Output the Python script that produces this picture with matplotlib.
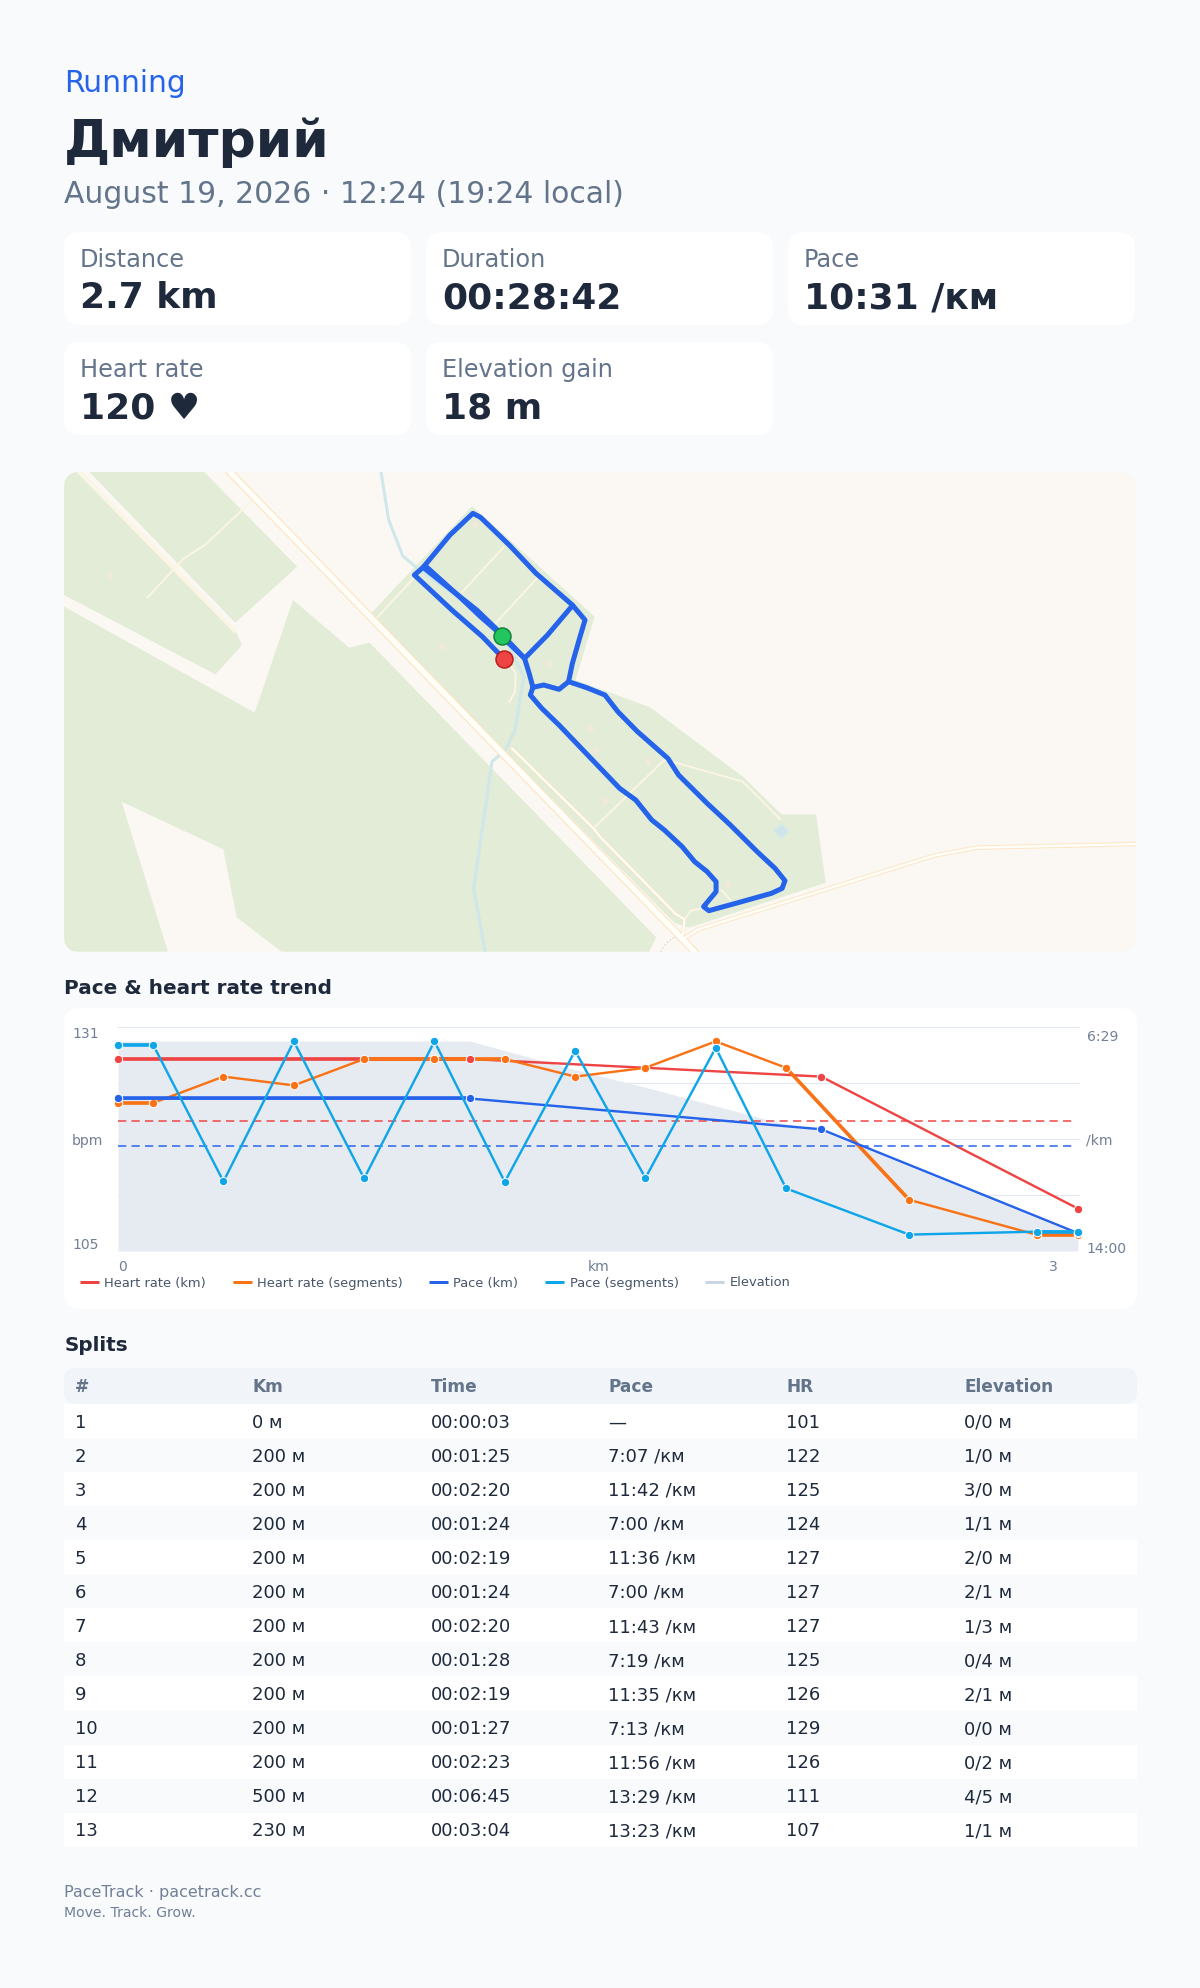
"""Activity summary card: header, stat tiles, route map, trend chart, splits table."""
import matplotlib
matplotlib.use("Agg")
import matplotlib.pyplot as plt
from matplotlib.patches import FancyBboxPatch, Polygon, Rectangle

W, H = 1200, 1988
PT = 0.72  # px -> pt at dpi 100

BG = "#f8fafc"
INK = "#1e293b"
MUTED = "#64748b"
LIGHT_MUTED = "#718096"
RED = "#ef4444"
ORANGE = "#f97316"
BLUE = "#2563eb"
SKY = "#0ea5e9"
ELEV = "#e6eaf1"
GRID = "#e2e8f0"

# --- stat tiles -------------------------------------------------------------
tile_labels = ["Distance", "Duration", "Pace", "Heart rate", "Elevation gain"]
tile_values = ["2.7 km", "00:28:42", "10:31 /км", "120 ♥", "18 m"]

# --- trend chart ------------------------------------------------------------
km_x = [0, 1, 2, 2.73]
hr_km = [127, 127, 125, 110]
pace_km = [535, 535, 597, 806]  # seconds per km

seg_x = [0, 0.1, 0.3, 0.5, 0.7, 0.9, 1.1, 1.3, 1.5, 1.7, 1.9, 2.25, 2.615, 2.73]
hr_seg = [122, 122, 125, 124, 127, 127, 127, 125, 126, 129, 126, 111, 107, 107]
pace_seg = [427, 427, 702, 420, 696, 420, 703, 439, 695, 433, 716, 809, 803, 803]

elev_x = [0, 1, 1.3, 1.513, 1.858, 2, 2.73]
elev_rel = [1, 1, 0.863, 0.774, 0.62, 0.573, 0.079]

hr_avg = 120
pace_avg = 631

# --- splits -----------------------------------------------------------------
split_no = [str(i) for i in range(1, 14)]
split_dist = ["0 м"] + ["200 м"] * 10 + ["500 м", "230 м"]
split_time = ["00:00:03", "00:01:25", "00:02:20", "00:01:24", "00:02:19", "00:01:24",
              "00:02:20", "00:01:28", "00:02:19", "00:01:27", "00:02:23", "00:06:45",
              "00:03:04"]
split_pace = ["—", "7:07 /км", "11:42 /км", "7:00 /км", "11:36 /км", "7:00 /км",
              "11:43 /км", "7:19 /км", "11:35 /км", "7:13 /км", "11:56 /км",
              "13:29 /км", "13:23 /км"]
split_hr = ["101", "122", "125", "124", "127", "127", "127", "125", "126", "129",
            "126", "111", "107"]
split_elev = ["0/0 м", "1/0 м", "3/0 м", "1/1 м", "2/0 м", "2/1 м", "1/3 м", "0/4 м",
              "2/1 м", "0/0 м", "0/2 м", "4/5 м", "1/1 м"]
split_heads = ["#", "Km", "Time", "Pace", "HR", "Elevation"]


def left_crop(points):
    return [(50 + x / 2.613, 460 + y / 3) for x, y in points]


def right_crop(points):
    return [(600 + x / 2.8, 460 + y / 3) for x, y in points]


green_a = left_crop([(37, 36), (70, 36), (487, 518), (502, 555), (432, 643), (37, 405)])
green_b = left_crop([(103, 36), (403, 36), (646, 320), (484, 488)])
green_c = left_crop([(37, 440), (535, 758), (635, 420), (782, 563), (835, 548),
                     (1584, 1432), (1565, 1475), (605, 1475), (488, 1372), (453, 1168),
                     (187, 1025), (308, 1475), (37, 1475)])
green_d = (left_crop([(1103, 138), (835, 465), (850, 480)])
           + right_crop([(210, 1390), (250, 1403), (632, 1268), (605, 1063), (508, 1063),
                         (400, 950), (140, 742)])
           + left_crop([(1373, 660), (1423, 470)]))

main_road = left_crop([(470, 36)]) + right_crop([(265, 1475)])
east_road = right_crop([(240, 1432), (275, 1408), (935, 1187), (1055, 1163), (1501, 1152)])
side_road = (left_crop([(1207, 865), (1420, 1105)])
             + right_crop([(0, 1130), (210, 1360), (237, 1378), (232, 1425)]))
thin_paths = [
    left_crop([(255, 412), (350, 295), (405, 255), (525, 125)]),
    left_crop([(850, 478), (950, 355)]),
    left_crop([(1078, 395), (1185, 262)]),
    left_crop([(1160, 495), (1275, 352)]),
    left_crop([(1187, 590), (1217, 640), (1215, 695), (1200, 727)]),
    left_crop([(1420, 1105)]) + right_crop([(180, 900), (225, 912), (400, 965), (505, 1078)]),
    right_crop([(340, 1290), (365, 1320)]),
    right_crop([(290, 1345), (255, 1352), (237, 1378)]),
    left_crop([(72, 36), (482, 516)]),
    left_crop([(82, 36), (488, 516)]),
]
track_edge = right_crop([(170, 1475), (185, 1450), (210, 1430)])
stream = left_crop([(865, 36), (885, 180), (922, 288), (960, 325), (1100, 440), (1200, 560),
                    (1238, 650), (1215, 810), (1190, 870), (1155, 905), (1107, 1285),
                    (1137, 1475)])
pond = right_crop([(508, 1092), (530, 1113), (508, 1137), (486, 1113)])
buildings = (left_crop([(1112, 195), (1025, 560), (1305, 612), (158, 347), (1413, 807),
                        (1425, 873), (1450, 1025), (1565, 905)])
             + right_crop([(358, 1275)]))

route_main = (left_crop([(1180, 529), (1240, 595), (1252, 640), (1262, 682), (1255, 705),
                         (1285, 745), (1330, 795), (1380, 855), (1430, 915)])
              + right_crop([(55, 985), (100, 1020), (145, 1080), (180, 1110), (230, 1160),
                            (265, 1205), (300, 1235), (325, 1265), (325, 1295), (290, 1340),
                            (305, 1352), (380, 1330), (480, 1300), (510, 1285), (518, 1262),
                            (490, 1225), (440, 1175), (365, 1095), (300, 1030), (220, 945),
                            (190, 895), (105, 815), (50, 755)])
              + left_crop([(1450, 705), (1400, 682), (1355, 665), (1330, 688), (1290, 675),
                           (1262, 682)]))
route_east = left_crop([(1355, 665), (1365, 610), (1385, 530), (1398, 480), (1365, 435),
                        (1270, 340), (1200, 255), (1125, 172), (1105, 160), (1045, 225),
                        (975, 322), (1060, 400), (1115, 450), (1180, 522), (1240, 595)])
route_back = left_crop([(1240, 595), (1300, 525), (1365, 437)])
route_double = left_crop([(985, 322), (1070, 410), (1125, 470), (1170, 515)])
route_last = left_crop([(975, 322), (952, 345), (1050, 450), (1130, 530), (1187, 598)])
start_pt = left_crop([(1180, 529)])[0]
end_pt = left_crop([(1187, 598)])[0]


fig = plt.figure(figsize=(W / 100, H / 100), dpi=100, facecolor=BG)
page = fig.add_axes([0, 0, 1, 1])
page.set_xlim(0, W)
page.set_ylim(H, 0)
page.axis("off")


def card(x0, y0, x1, y1, color="white", radius=16, z=1):
    patch = FancyBboxPatch((x0, y0), x1 - x0, y1 - y0,
                           boxstyle=f"round,pad=0,rounding_size={radius}",
                           facecolor=color, edgecolor="none", zorder=z)
    page.add_patch(patch)
    return patch


def label(x, y, s, px, color=INK, weight="normal", ha="left", z=10):
    page.text(x, y, s, fontsize=px * PT, color=color, fontweight=weight,
              ha=ha, va="baseline", zorder=z)


# header
label(64.5, 92, "Running", 29.7, BLUE)
label(64, 157, "Дмитрий", 52, INK, "bold")
label(64, 203, "August 19, 2026 · 12:24 (19:24 local)", 29.9, MUTED)

# tiles
tile_w = 347
for i, (name, val) in enumerate(zip(tile_labels, tile_values)):
    col, row = i % 3, i // 3
    x0 = 64 + col * 362
    y0 = 232 + row * 110
    card(x0, y0, x0 + tile_w, y0 + 93)
    label(x0 + 16, y0 + 35, name, 24, MUTED)
    label(x0 + 16, y0 + 76.5, val, 36, INK, "bold")

# map
map_card = card(64, 472, 1136, 952, color="#fbf8f3", z=2)


def clipped(artist):
    artist.set_clip_path(map_card)
    return artist


def map_line(points, color, px, z, **kw):
    xs, ys = zip(*points)
    line, = page.plot(xs, ys, color=color, lw=px * PT, zorder=z,
                      solid_capstyle="round", solid_joinstyle="round", **kw)
    clipped(line)


for poly in (green_a, green_b, green_c, green_d):
    page.add_patch(clipped(Polygon(poly, closed=True, facecolor="#e2ecd6",
                                   edgecolor="none", zorder=3)))
map_line(stream, "#cfe7ea", 3, 4)
page.add_patch(clipped(Polygon(pond, closed=True, facecolor="#cfe5ea",
                               edgecolor="#d8ebe6", lw=1, zorder=4)))
for bx, by in buildings:
    page.add_patch(clipped(Polygon([(bx, by - 5), (bx + 4, by), (bx, by + 5), (bx - 4, by)],
                                   closed=True, facecolor="#f0e9dc",
                                   edgecolor="none", zorder=4)))
for path in thin_paths:
    map_line(path, "#fbf5e4", 2, 5)
xs, ys = zip(*track_edge)
clipped(page.plot(xs, ys, color="#d5d5d5", lw=1, ls=":", zorder=5)[0])
for road, casing, inner in ((side_road, 3.5, 2), (east_road, 4.5, 2.5), (main_road, 8, 5.5)):
    map_line(road, "#fce6c6", casing, 6)
    map_line(road, "#fffef9", inner, 7)

for seg in (route_main, route_east, route_back, route_double, route_last):
    map_line(seg, BLUE, 5, 8)
page.scatter(*start_pt, s=(17 * PT) ** 2, color="#22c55e", edgecolors="#15803d",
             linewidths=1.5 * PT, zorder=9)
page.scatter(*end_pt, s=(17 * PT) ** 2, color=RED, edgecolors="#b91c1c",
             linewidths=1.5 * PT, zorder=9)

# trend chart
label(64.5, 994, "Pace & heart rate trend", 20, INK, "bold")
card(64, 1008, 1137, 1309)

PLOT_L, PLOT_R, PLOT_T, PLOT_B = 118, 1078.6, 1026.7, 1251
rect = [PLOT_L / W, 1 - PLOT_B / H, (PLOT_R - PLOT_L) / W, (PLOT_B - PLOT_T) / H]


def layer(z):
    ax = fig.add_axes(rect, zorder=z)
    ax.set_xlim(0, 2.732)
    ax.axis("off")
    ax.patch.set_visible(False)
    return ax


elev_ax = layer(1)
hr_ax = layer(2)
pace_ax = layer(3)
elev_ax.set_ylim(0, 1.068)
hr_ax.set_ylim(105.18, 130.67)
pace_ax.set_ylim(842, 390.5)

for frac in (0, 0.25, 0.5, 0.75):
    elev_ax.axhline(1.068 * (1 - frac), color=GRID, lw=1.1 * PT, zorder=1, clip_on=False)
elev_ax.fill_between(elev_x, elev_rel, 0, color=ELEV, lw=0, zorder=2)


def series(ax, xs, ys, color, heavy=()):
    ax.plot(xs, ys, color=color, lw=2.4 * PT, zorder=3, solid_capstyle="butt",
            solid_joinstyle="round")
    for i in heavy:
        ax.plot(xs[i:i + 2], ys[i:i + 2], color=color, lw=3.6 * PT, zorder=3,
                solid_capstyle="butt")
    ax.plot(xs, ys, ls="none", marker="o", ms=8.4 * PT, mfc=color, mec="white",
            mew=1.0 * PT, zorder=4, clip_on=False)


hr_ax.axhline(hr_avg, color=RED, lw=1.5 * PT, dashes=(5.5, 3.5), zorder=2, xmax=0.996)
pace_ax.axhline(pace_avg, color=BLUE, lw=1.5 * PT, dashes=(5.5, 3.5), zorder=2, xmax=0.996)
series(hr_ax, km_x, hr_km, RED, heavy=(0,))
series(hr_ax, seg_x, hr_seg, ORANGE, heavy=(0, 4, 5, 10, 12))
series(pace_ax, km_x, pace_km, BLUE, heavy=(0,))
series(pace_ax, seg_x, pace_seg, SKY, heavy=(0, 12))

label(72, 1038, "131", 14, LIGHT_MUTED)
label(72, 1145, "bpm", 14, LIGHT_MUTED)
label(72, 1249, "105", 14, LIGHT_MUTED)
label(1086.5, 1041, "6:29", 14, LIGHT_MUTED)
label(1086.5, 1145, "/km", 14, LIGHT_MUTED)
label(1086.5, 1253, "14:00", 14, LIGHT_MUTED)
label(118, 1271, "0", 14, LIGHT_MUTED)
label(598.5, 1271, "km", 14, LIGHT_MUTED, ha="center")
label(1058, 1271, "3", 14, LIGHT_MUTED, ha="right")

legend_items = [("Heart rate (km)", RED, 80, 104.3),
                ("Heart rate (segments)", ORANGE, 233, 257.4),
                ("Pace (km)", BLUE, 429, 453.4),
                ("Pace (segments)", SKY, 545.2, 569.7),
                ("Elevation", "#cbd5e1", 705, 729.3)]
for name, color, lx, tx in legend_items:
    page.plot([lx, lx + 19], [1281.5, 1281.5], color=color, lw=3 * PT, zorder=5,
              solid_capstyle="butt")
    label(tx, 1286.5, name, 13, "#475569")

# splits table
label(64.5, 1351, "Splits", 20, INK, "bold")
card(64, 1368, 1137, 1404, color="#f1f5f9", radius=12)
col_x = [75, 252.5, 430.5, 608.5, 786.5, 964.5]
for x, head in zip(col_x, split_heads):
    label(x, 1391.5, head, 17, MUTED, "bold")

ROW_H = 34.05
rows = zip(split_no, split_dist, split_time, split_pace, split_hr, split_elev)
for i, cells in enumerate(rows):
    top = 1404 + i * ROW_H
    if i % 2 == 0:
        page.add_patch(Rectangle((64, top), 1073, ROW_H, facecolor="white",
                                 edgecolor="none", zorder=1))
    for x, cell in zip(col_x, cells):
        label(x, 1427.7 + i * ROW_H, cell, 18, INK)

# footer
label(64, 1897, "PaceTrack · pacetrack.cc", 16, LIGHT_MUTED)
label(64, 1917, "Move. Track. Grow.", 14, LIGHT_MUTED)

fig.savefig("out.png", dpi=100, facecolor=BG)
